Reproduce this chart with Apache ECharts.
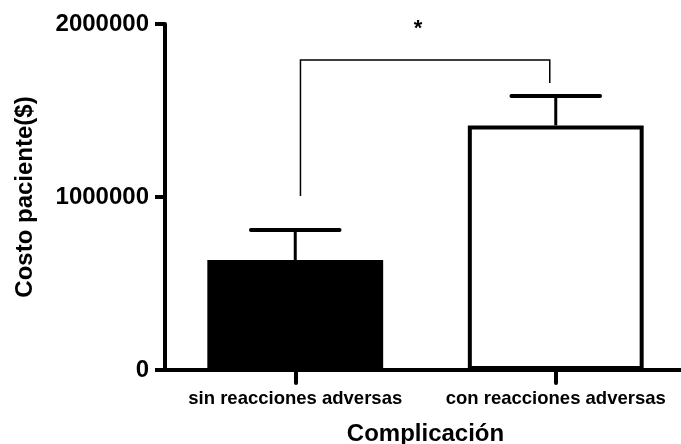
<!DOCTYPE html>
<html>
<head>
<meta charset="utf-8">
<script src="https://cdn.jsdelivr.net/npm/echarts@6/dist/echarts.min.js"></script>
<style>
  html, body { margin: 0; padding: 0; background: #fff; }
  #chart { width: 681px; height: 444px; }
</style>
</head>
<body>
<div id="chart"></div>
<script>
// Patient cost by complication group (mean with upper error bar)
const categories = ['sin reacciones adversas', 'con reacciones adversas'];
const meanCost = [636000, 1414000];
const errorTop = [809000, 1584000];
const yTicks = [0, 1000000, 2000000];
// Significance bracket: [fromCategory, toCategory, bracketLevel, leftFoot, rightFoot]
const bracket = [[0, 1, 1792000, 1006000, 1659000]];
const bracketMark = '*';

const FONT = 'Arial, "Liberation Sans", sans-serif';
const chart = echarts.init(document.getElementById('chart'));

chart.setOption({
  animation: false,
  grid: { left: 165, top: 24, bottom: 74, right: -5, outerBoundsMode: 'none', containLabel: false },
  xAxis: {
    type: 'category',
    data: categories,
    name: 'Complicación',
    nameLocation: 'middle',
    nameGap: 52,
    nameTextStyle: { fontFamily: FONT, fontWeight: 'bold', fontSize: 24, color: '#000' },
    axisLine: { lineStyle: { color: '#000', width: 4 } },
    axisTick: { show: true, interval: 0, alignWithLabel: true, length: 13, lineStyle: { color: '#000', width: 4, cap: 'round' } },
    axisLabel: {
      interval: 0, hideOverlap: false,
      fontFamily: FONT, fontWeight: 'bold', fontSize: 18.5, color: '#000', margin: 19
    }
  },
  yAxis: {
    type: 'value',
    min: yTicks[0],
    max: yTicks[yTicks.length - 1],
    interval: yTicks[1] - yTicks[0],
    name: 'Costo paciente($)',
    nameLocation: 'middle',
    nameGap: 128,
    nameTextStyle: { fontFamily: FONT, fontWeight: 'bold', fontSize: 24, color: '#000' },
    splitLine: { show: false },
    axisLine: { show: true, lineStyle: { color: '#000', width: 4 } },
    axisTick: { show: true, length: 10, lineStyle: { color: '#000', width: 4 } },
    axisLabel: {
      fontFamily: FONT, fontWeight: 'bold', fontSize: 24, color: '#000', margin: 16,
      formatter: function (v) { return String(v); }
    }
  },
  series: [
    {
      type: 'bar',
      barWidth: '67.5%',
      data: meanCost.map((v, i) => ({
        value: v,
        itemStyle: i === 0
          ? { color: '#000', borderColor: '#000', borderWidth: 0 }
          : { color: '#fff', borderColor: '#000', borderWidth: 4 }
      })),
      z: 2
    },
    {
      type: 'custom',
      z: 3,
      data: errorTop.map((v, i) => [i, meanCost[i], v]),
      renderItem: function (params, api) {
        const base = api.coord([api.value(0), api.value(1)]);
        const top = api.coord([api.value(0), api.value(2)]);
        const half = api.size([1, 0])[0] * 0.17;
        return {
          type: 'group',
          children: [
            { type: 'line', shape: { x1: base[0], y1: base[1], x2: top[0], y2: top[1] },
              style: { stroke: '#000', lineWidth: 3 } },
            { type: 'line', shape: { x1: top[0] - half, y1: top[1], x2: top[0] + half, y2: top[1] },
              style: { stroke: '#000', lineWidth: 4, lineCap: 'round' } }
          ]
        };
      }
    },
    {
      type: 'custom',
      z: 4,
      data: bracket,
      renderItem: function (params, api) {
        const band = api.size([1, 0])[0];
        const dl = band * 0.02, dr = -band * 0.023;
        const a0 = api.coord([api.value(0), api.value(3)]);
        const a1 = api.coord([api.value(0), api.value(2)]);
        const b1 = api.coord([api.value(1), api.value(2)]);
        const b0 = api.coord([api.value(1), api.value(4)]);
        const pts = [[a0[0] + dl, a0[1]], [a1[0] + dl, a1[1]], [b1[0] + dr, b1[1]], [b0[0] + dr, b0[1]]];
        return {
          type: 'group',
          children: [
            { type: 'polyline', shape: { points: pts },
              style: { stroke: '#000', lineWidth: 1.5, fill: null } },
            { type: 'text', x: (pts[1][0] + pts[2][0]) / 2 - 7, y: a1[1] - 31,
              style: { text: bracketMark, font: 'bold 22px ' + FONT, fill: '#000',
                       align: 'center', verticalAlign: 'middle' } }
          ]
        };
      }
    }
  ]
});
</script>
</body>
</html>
